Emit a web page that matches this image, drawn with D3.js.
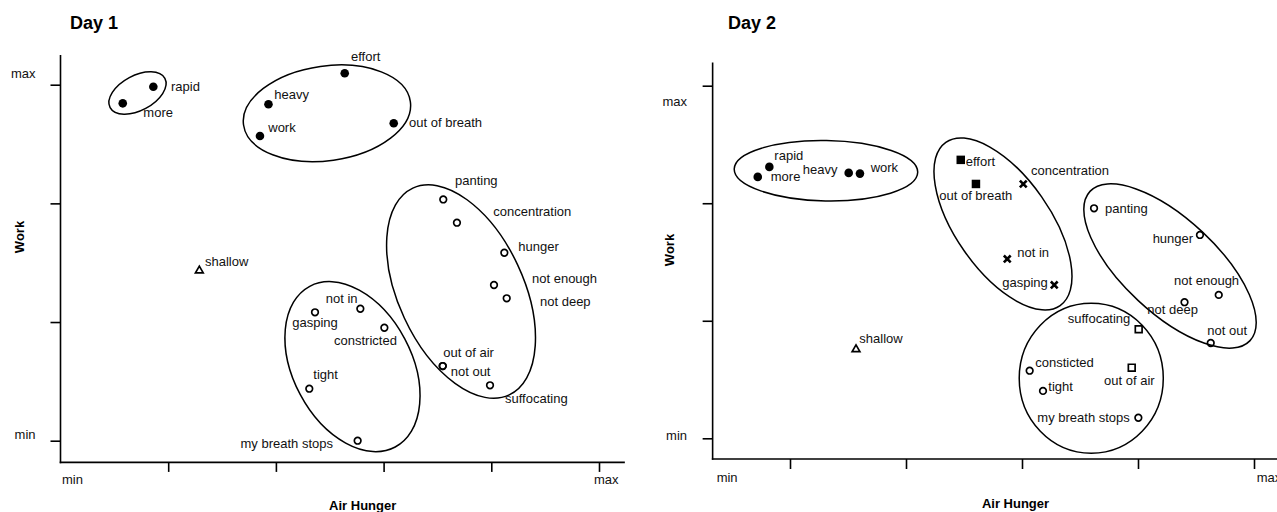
<!DOCTYPE html>
<html><head><meta charset="utf-8">
<script src="https://cdn.jsdelivr.net/npm/d3@7"></script>
<style>
body{margin:0;background:#fff;}
text{font-family:"Liberation Sans",Arial,Helvetica,sans-serif;}
</style>
</head><body>
<svg id="chart" width="1277" height="512"></svg>
<script>
// ---------- data ----------
const panelTitles = ["Day 1", "Day 2"];
const xAxisTitle = "Air Hunger";
const yAxisTitle = "Work";
const xTickValues = [1, 2, 3, 4, 5];
const yTickValues = [0, 1, 2, 3];
const endLabels = ["min", "max"];

const day1Words = ["rapid","more","effort","heavy","work","out of breath","shallow","panting","concentration","hunger","not enough","not deep","out of air","not out","suffocating","not in","gasping","constricted","tight","my breath stops"];
const day1X = [0.862,0.578,2.639,1.931,1.852,3.094,1.289,3.554,3.681,4.121,4.025,4.143,3.549,3.549,3.988,2.784,2.363,3.007,2.310,2.759];
const day1Y = [2.983,2.843,3.096,2.835,2.568,2.675,1.433,2.033,1.837,1.584,1.312,1.200,0.629,0.629,0.467,1.112,1.082,0.952,0.438,0.000];
const day1Marker = ["dot","dot","dot","dot","dot","dot","tri","ring","ring","ring","ring","ring","ring","ring","ring","ring","ring","ring","ring","ring"];

const day1EllipseCx = [0.715,2.474,3.719,2.711];
const day1EllipseCy = [2.930,2.759,1.257,0.624];
const day1EllipseRx = [0.288,0.782,0.581,0.550];
const day1EllipseRy = [0.147,0.399,0.961,0.767];
const day1EllipseAngle = [-28,-8,-25,-28];

const day2Words = ["rapid","more","heavy","work","effort","out of breath","concentration","not in","gasping","panting","hunger","not enough","not deep","not out","suffocating","out of air","consticted","tight","my breath stops","shallow"];
const day2X = [0.822,0.722,1.506,1.603,2.472,2.603,3.011,2.873,3.278,3.621,4.534,4.696,4.401,4.627,4.006,3.946,3.066,3.181,4.003,1.569];
const day2Y = [2.309,2.224,2.258,2.252,2.369,2.164,2.164,1.526,1.305,1.957,1.730,1.220,1.158,0.811,0.928,0.601,0.575,0.403,0.175,0.757];
const day2Marker = ["dot","dot","dot","dot","sq","sq","cross","cross","cross","ring","ring","ring","ring","ring","box","box","ring","ring","ring","tri"];

const day2EllipseCx = [1.310,2.836,4.276,3.597];
const day2EllipseCy = [2.277,1.824,1.466,0.511];
const day2EllipseRx = [0.791,0.407,0.405,0.621];
const day2EllipseRy = [0.257,0.848,0.931,0.638];
const day2EllipseAngle = [1,-35,-47,0];

// ---------- layout (label offsets in px, start-anchored) ----------
const day1LabelDx = [17.7,20.6,6.3,5.8,8.3,15.3,5.7,11.7,36.3,14,38,33.3,0.6,8,15,-34.6,-22.7,-50.3,4,-117.1];
const day1LabelDy = [3.9,13.4,-12.6,-5,-4,3.7,-4.3,-14.5,-6.3,-2.1,-2.4,7.3,-8.6,10.4,17.3,-5.7,14.2,17,-9.7,7.6];
const day2LabelDx = [5,13,-46,10.7,5,-36.7,7.7,10,-52,11,-47.3,-44.7,-37.2,-3.4,-71,-27.7,5.6,5.3,-101,3.3];
const day2LabelDy = [-7,4.1,1,-1.7,6.4,15.7,-8.6,-1.6,2.5,4.3,8.3,-10,12.1,-7.6,-6,17,-3.3,0,3.9,-6.3];

const panels = [
  {title: panelTitles[0], words: day1Words, X: day1X, Y: day1Y, M: day1Marker,
   eCx: day1EllipseCx, eCy: day1EllipseCy, eRx: day1EllipseRx, eRy: day1EllipseRy, eA: day1EllipseAngle,
   ldx: day1LabelDx, ldy: day1LabelDy,
   xRange: [60.5, 599], yRange: [440.7, 84.7], xExtent: [0, 5.24], yExtent: [-0.183, 3.25],
   titlePos: [70, 28.5], xTitlePos: [362.7, 509.5], yTitlePos: [24, 237],
   yLabelX: 35.5, yLabelDy: [-1.7, -6.3], xLabelDx: [1.5, -5], xLabelDy: 21.2, xTick: 9.5},
  {title: panelTitles[1], words: day2Words, X: day2X, Y: day2Y, M: day2Marker,
   eCx: day2EllipseCx, eCy: day2EllipseCy, eRx: day2EllipseRx, eRy: day2EllipseRy, eA: day2EllipseAngle,
   ldx: day2LabelDx, ldy: day2LabelDy,
   xRange: [674, 1254], yRange: [438.3, 85.7], xExtent: [0.333, 5.2], yExtent: [-0.176, 3.197],
   titlePos: [728, 28.5], xTitlePos: [1015.5, 508], yTitlePos: [674, 250],
   yLabelX: 687, yLabelDy: [1.2, 20.3], xLabelDx: [4, 2.7], xLabelDy: 23, xTick: 10}
];

const svg = d3.select("#chart");
svg.append("rect").attr("width", 1277).attr("height", 512).attr("fill", "#fff");

function markerPath(m) {
  switch (m) {
    case "dot": return d3.symbol(d3.symbolCircle, Math.PI * 4.3 * 4.3)();
    case "ring": return d3.symbol(d3.symbolCircle, Math.PI * 3.3 * 3.3)();
    case "tri": return d3.symbol(d3.symbolTriangle, 26)();
    case "sq": return d3.symbol(d3.symbolSquare, 72)();
    case "box": return d3.symbol(d3.symbolSquare, 46)();
    case "cross": return "M-3.4,-3.4L3.4,3.4M-3.4,3.4L3.4,-3.4";
  }
}
const filled = {dot: true, sq: true};

panels.forEach(p => {
  const x = d3.scaleLinear().domain([0, 5]).range(p.xRange);
  const y = d3.scaleLinear().domain([0, 3]).range(p.yRange);
  const g = svg.append("g");
  const x0 = x(p.xExtent[0]), y0 = y(p.yExtent[0]);

  // x axis
  const gx = g.append("g").attr("transform", `translate(0,${y0})`)
    .call(d3.axisBottom(x).tickValues(xTickValues).tickSize(p.xTick).tickSizeOuter(0).tickFormat(""));
  gx.select(".domain").remove();
  gx.selectAll(".tick line").attr("stroke", "#000").attr("stroke-width", 1.6);
  g.append("line").attr("x1", x0 - 0.8).attr("x2", x(p.xExtent[1])).attr("y1", y0).attr("y2", y0)
    .attr("stroke", "#000").attr("stroke-width", 1.6);

  // y axis
  const gy = g.append("g").attr("transform", `translate(${x0},0)`)
    .call(d3.axisLeft(y).tickValues(yTickValues).tickSize(10).tickSizeOuter(0).tickFormat(""));
  gy.select(".domain").remove();
  gy.selectAll(".tick line").attr("stroke", "#000").attr("stroke-width", 1.6);
  g.append("line").attr("x1", x0).attr("x2", x0).attr("y1", y(p.yExtent[1])).attr("y2", y0 + 0.8)
    .attr("stroke", "#000").attr("stroke-width", 1.6);

  // axis end labels
  g.append("text").attr("x", p.yLabelX).attr("y", y(0) + p.yLabelDy[0]).attr("text-anchor", "end")
    .attr("font-size", 13).attr("fill", "#111").text(endLabels[0]);
  g.append("text").attr("x", p.yLabelX).attr("y", y(3) + p.yLabelDy[1]).attr("text-anchor", "end")
    .attr("font-size", 13).attr("fill", "#111").text(endLabels[1]);
  g.append("text").attr("x", x0 + p.xLabelDx[0]).attr("y", y0 + p.xLabelDy)
    .attr("font-size", 13).attr("fill", "#111").text(endLabels[0]);
  g.append("text").attr("x", x(5) + p.xLabelDx[1]).attr("y", y0 + p.xLabelDy)
    .attr("font-size", 13).attr("fill", "#111").text(endLabels[1]);

  // titles
  g.append("text").attr("x", p.titlePos[0]).attr("y", p.titlePos[1])
    .attr("font-size", 18).attr("font-weight", "bold").attr("fill", "#000").text(p.title);
  g.append("text").attr("x", p.xTitlePos[0]).attr("y", p.xTitlePos[1]).attr("text-anchor", "middle")
    .attr("font-size", 13).attr("font-weight", "bold").attr("fill", "#000").text(xAxisTitle);
  g.append("text").attr("transform", `translate(${p.yTitlePos[0]},${p.yTitlePos[1]}) rotate(-90)`)
    .attr("text-anchor", "middle").attr("font-size", 13).attr("font-weight", "bold").attr("fill", "#000").text(yAxisTitle);

  // ellipses
  g.selectAll("ellipse.cl").data(d3.range(p.eCx.length)).join("ellipse").attr("class", "cl")
    .attr("cx", i => x(p.eCx[i])).attr("cy", i => y(p.eCy[i]))
    .attr("rx", i => x(p.eCx[i] + p.eRx[i]) - x(p.eCx[i]))
    .attr("ry", i => y(p.eCy[i]) - y(p.eCy[i] + p.eRy[i]))
    .attr("transform", i => `rotate(${p.eA[i]},${x(p.eCx[i])},${y(p.eCy[i])})`)
    .attr("fill", "none").attr("stroke", "#000").attr("stroke-width", 1.5);

  // markers
  g.selectAll("path.pt").data(d3.range(p.words.length)).join("path").attr("class", "pt")
    .attr("transform", i => `translate(${x(p.X[i])},${y(p.Y[i])})`)
    .attr("d", i => markerPath(p.M[i]))
    .attr("fill", i => filled[p.M[i]] ? "#000" : "none")
    .attr("stroke", "#000")
    .attr("stroke-width", i => p.M[i] === "cross" ? 2.6 : (filled[p.M[i]] ? 0 : 1.7));

  // word labels
  g.selectAll("text.wl").data(d3.range(p.words.length)).join("text").attr("class", "wl")
    .attr("x", i => x(p.X[i]) + p.ldx[i]).attr("y", i => y(p.Y[i]) + p.ldy[i])
    .attr("font-size", 13).attr("fill", "#111").text(i => p.words[i]);
});
</script>
</body></html>
